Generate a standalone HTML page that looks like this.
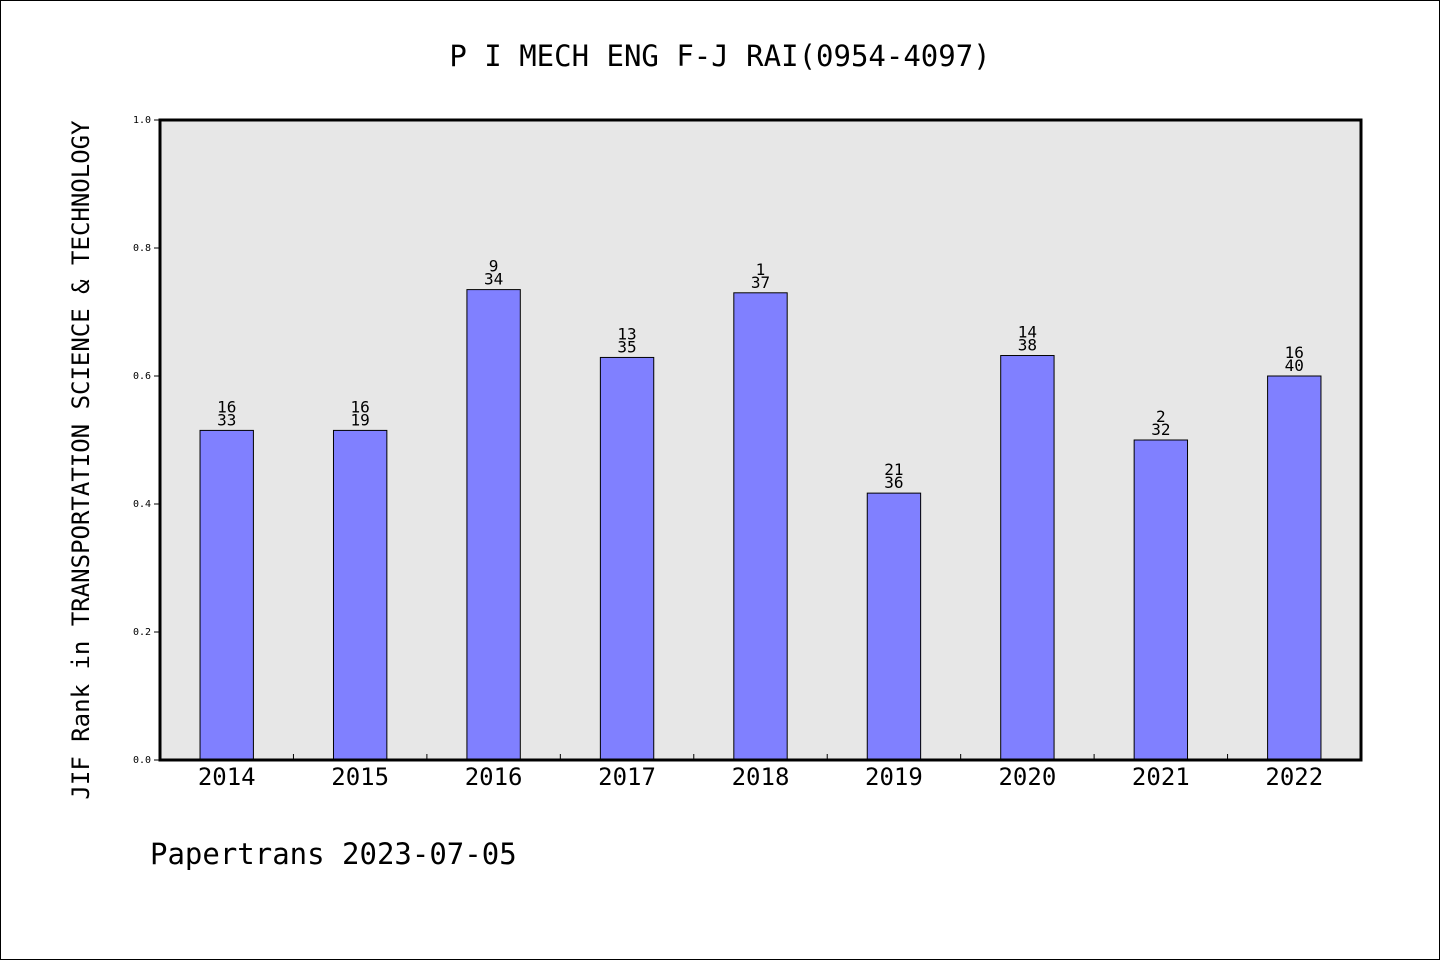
<!DOCTYPE html>
<html><head><meta charset="utf-8"><style>
html,body{margin:0;padding:0;background:#fff}
svg{display:block}
text{font-family:"DejaVu Sans Mono","Liberation Mono","WenQuanYi Zen Hei",monospace;fill:#000}
</style></head><body>
<svg width="1440" height="960" xmlns="http://www.w3.org/2000/svg" id="chart">
<rect x="0.5" y="0.5" width="1439" height="959" fill="#fff" stroke="#000"/>
<text x="720" y="66" font-size="29" text-anchor="middle">P I MECH ENG F-J RAI(0954-4097)</text>
<rect x="160" y="120" width="1201" height="640" fill="#e7e7e7"/>
<g id="marks"></g>
<rect x="160" y="120" width="1201" height="640" fill="none" stroke="#000" stroke-width="3"/>
<text transform="translate(89,460) rotate(-90)" font-size="24" text-anchor="middle">JIF Rank in TRANSPORTATION SCIENCE &amp; TECHNOLOGY</text>
<text x="150" y="864" font-size="29">Papertrans 2023-07-05</text>
</svg>
<script>
const categories=["2014","2015","2016","2017","2018","2019","2020","2021","2022"];
const values=[0.515,0.515,0.735,0.629,0.730,0.417,0.632,0.500,0.600];
const ranks=["16","16","9","13","1","21","14","2","16"];
const totals=["33","19","34","35","37","36","38","32","40"];
const yTicks=[0,0.2,0.4,0.6,0.8,1.0];
const tickLabels=["0.0","0.2","0.4","0.6","0.8","1.0"];
const NS="http://www.w3.org/2000/svg";
const X0=160,X1=1361,Y0=760,Y1=120;
const band=(X1-X0)/categories.length;
const xc=i=>X0+band*(i+0.5);
const y=v=>Y0-(Y0-Y1)*v;
const g=document.getElementById('marks');
function mk(t,a){const e=document.createElementNS(NS,t);for(const k in a)e.setAttribute(k,a[k]);g.appendChild(e);return e;}
yTicks.forEach((v,i)=>{
 const l=mk('line',{x1:X0-6,x2:X0,y1:y(v),y2:y(v),stroke:'#000'});
 
 
 const t=mk('text',{x:X0-9,y:y(v)+3,'font-size':10,'text-anchor':'end'});
 t.textContent=tickLabels[i];
 
 
});
categories.forEach((c,i)=>{
 if(i>0){const tk=mk('line',{x1:X0+band*i,x2:X0+band*i,y1:Y0-6,y2:Y0,stroke:'#000'});
 
 }
 const w=band*0.4,top=y(values[i]);
 const b=mk('rect',{x:xc(i)-w/2,y:top,width:w,height:Y0-top,fill:'#8080ff',stroke:'#000','stroke-width':1});
 
 
 const r=mk('text',{x:xc(i),y:top-18,'font-size':16,'text-anchor':'middle'});
 r.textContent=ranks[i];
 
 
 const n=mk('text',{x:xc(i),y:top-5,'font-size':16,'text-anchor':'middle'});
 n.textContent=totals[i];
 
 
 const xl=mk('text',{x:xc(i),y:785,'font-size':24,'text-anchor':'middle'});
 xl.textContent=c;
 
 
});
</script>
</body></html>
